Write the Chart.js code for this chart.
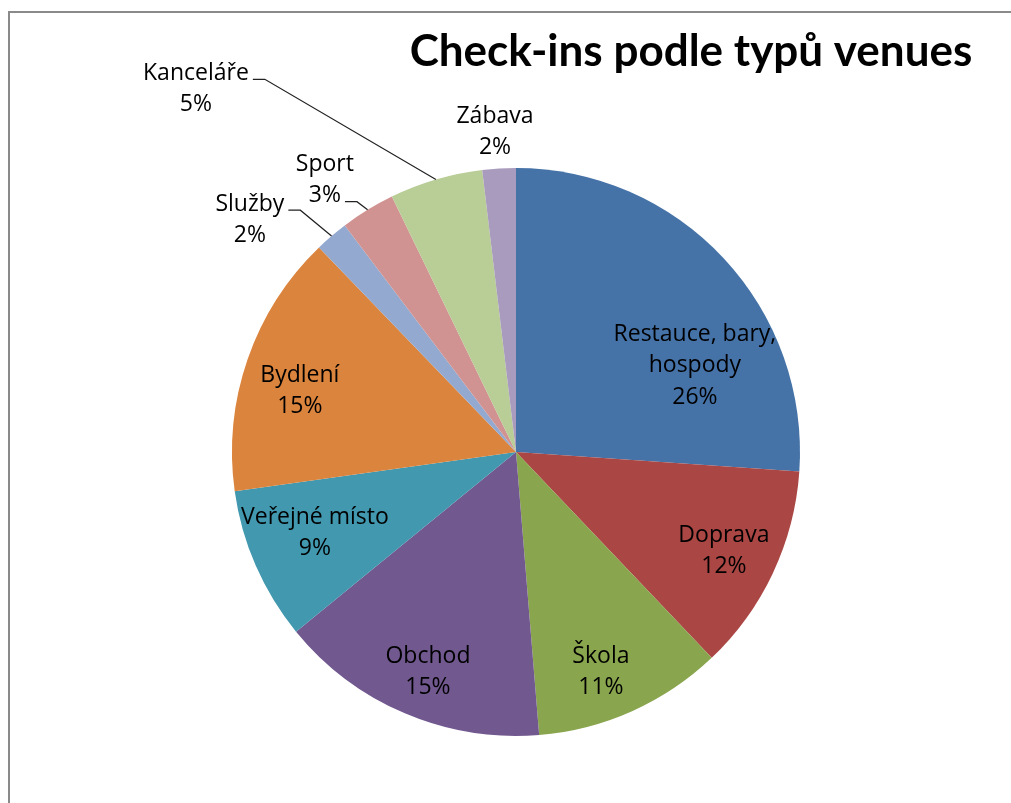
<!DOCTYPE html>
<html>
<head>
<meta charset="utf-8">
<script src="https://cdn.jsdelivr.net/npm/chart.js@4/dist/chart.umd.min.js"></script>
<style>
  html, body { margin: 0; padding: 0; background: #fff; overflow: hidden; }
  #wrap { position: absolute; left: 0; top: 0; width: 1011px; height: 803px; }
  #frame { position: absolute; left: 8px; top: 11px; width: 1100px; height: 900px;
           border-left: 2px solid #8a8a8a; border-top: 2px solid #8a8a8a; }
</style>
</head>
<body>
<div id="wrap">
  <div id="frame"></div>
  <canvas id="c" width="1011" height="803" style="position:absolute;left:0;top:0;"></canvas>
</div>
<script>
// ---- data ----
const chartTitle = "Check-ins podle typů venues";
const categories = [
  "Restauce, bary, hospody", "Doprava", "Škola", "Obchod", "Veřejné místo",
  "Bydlení", "Služby", "Sport", "Kanceláře", "Zábava"
];
const shares = [26.1, 11.8, 10.8, 15.4, 8.7, 15.0, 1.9, 3.1, 5.3, 1.9];
const sliceColors = [
  "#4572A7", "#AA4643", "#89A54E", "#71588F", "#4198AF",
  "#DB843D", "#93A9CF", "#D19392", "#B9CD96", "#A99BBD"
];
// label text lines (category name split as in the picture)
const labelLines = [
  ["Restauce, bary,", "hospody"], ["Doprava"], ["Škola"], ["Obchod"], ["Veřejné místo"],
  ["Bydlení"], ["Služby"], ["Sport"], ["Kanceláře"], ["Zábava"]
];
// label block centre, relative to pie centre, in units of the pie radius
const labelOffsets = [
  [0.630, -0.303], [0.732, 0.349], [0.299, 0.775], [-0.310, 0.775], [-0.708, 0.285],
  [-0.761, -0.215], [-0.937, -0.817], [-0.673, -0.958], [-1.127, -1.278], [-0.074, -1.127]
];
// leader lines: null = none; otherwise which text line it attaches to
const leaderAttachLine = [null, null, null, null, null, null, 0, 1, 0, null];

const labelFont = '23px "Open Sans", Lato, sans-serif';
const lineH = 31.5;

const labelPlugin = {
  id: 'sliceLabels',
  afterDatasetsDraw(chart) {
    const ctx = chart.ctx;
    const meta = chart.getDatasetMeta(0);
    const total = shares.reduce((a, b) => a + b, 0);
    ctx.save();
    ctx.font = labelFont;
    ctx.fillStyle = "#000";
    ctx.textAlign = "center";
    ctx.textBaseline = "middle";
    meta.data.forEach((arc, i) => {
      const { x: cx, y: cy, outerRadius: r, startAngle, endAngle } = arc.getProps(['x','y','outerRadius','startAngle','endAngle'], true);
      const lines = labelLines[i].concat([Math.round(shares[i] / total * 100) + "%"]);
      const bx = cx + labelOffsets[i][0] * r;
      const by = cy + labelOffsets[i][1] * r;
      const y0 = by - (lines.length - 1) * lineH / 2;
      lines.forEach((t, k) => ctx.fillText(t, bx, y0 + k * lineH));
      if (leaderAttachLine[i] !== null) {
        const k = leaderAttachLine[i];
        const w = ctx.measureText(lines[k]).width;
        const ly = y0 + k * lineH + 6;
        const lx = bx + w / 2 + 4;
        const ex = lx + 12;
        const mid = (startAngle + endAngle) / 2;
        const ax = cx + Math.cos(mid) * r;
        const ay = cy + Math.sin(mid) * r;
        ctx.strokeStyle = "#222";
        ctx.lineWidth = 1.2;
        ctx.beginPath();
        ctx.moveTo(lx, ly);
        ctx.lineTo(ex, ly);
        ctx.lineTo(ax, ay);
        ctx.stroke();
      }
    });
    ctx.restore();
  }
};

const titlePlugin = {
  id: 'rightTitle',
  afterDraw(chart) {
    const ctx = chart.ctx;
    ctx.save();
    ctx.font = 'bold 44px Lato, "Open Sans", sans-serif';
    ctx.fillStyle = "#000";
    ctx.textAlign = "center";
    ctx.textBaseline = "middle";
    ctx.fillText(chartTitle, 691, 52);
    ctx.restore();
  }
};

new Chart(document.getElementById('c'), {
  type: 'pie',
  data: {
    labels: categories,
    datasets: [{
      data: shares,
      backgroundColor: sliceColors,
      borderWidth: 0
    }]
  },
  options: {
    responsive: false,
    animation: false,
    layout: { padding: { left: 232, top: 168, right: 211, bottom: 67 } },
    plugins: { legend: { display: false }, tooltip: { enabled: false } }
  },
  plugins: [labelPlugin, titlePlugin]
});
</script>
</body>
</html>
